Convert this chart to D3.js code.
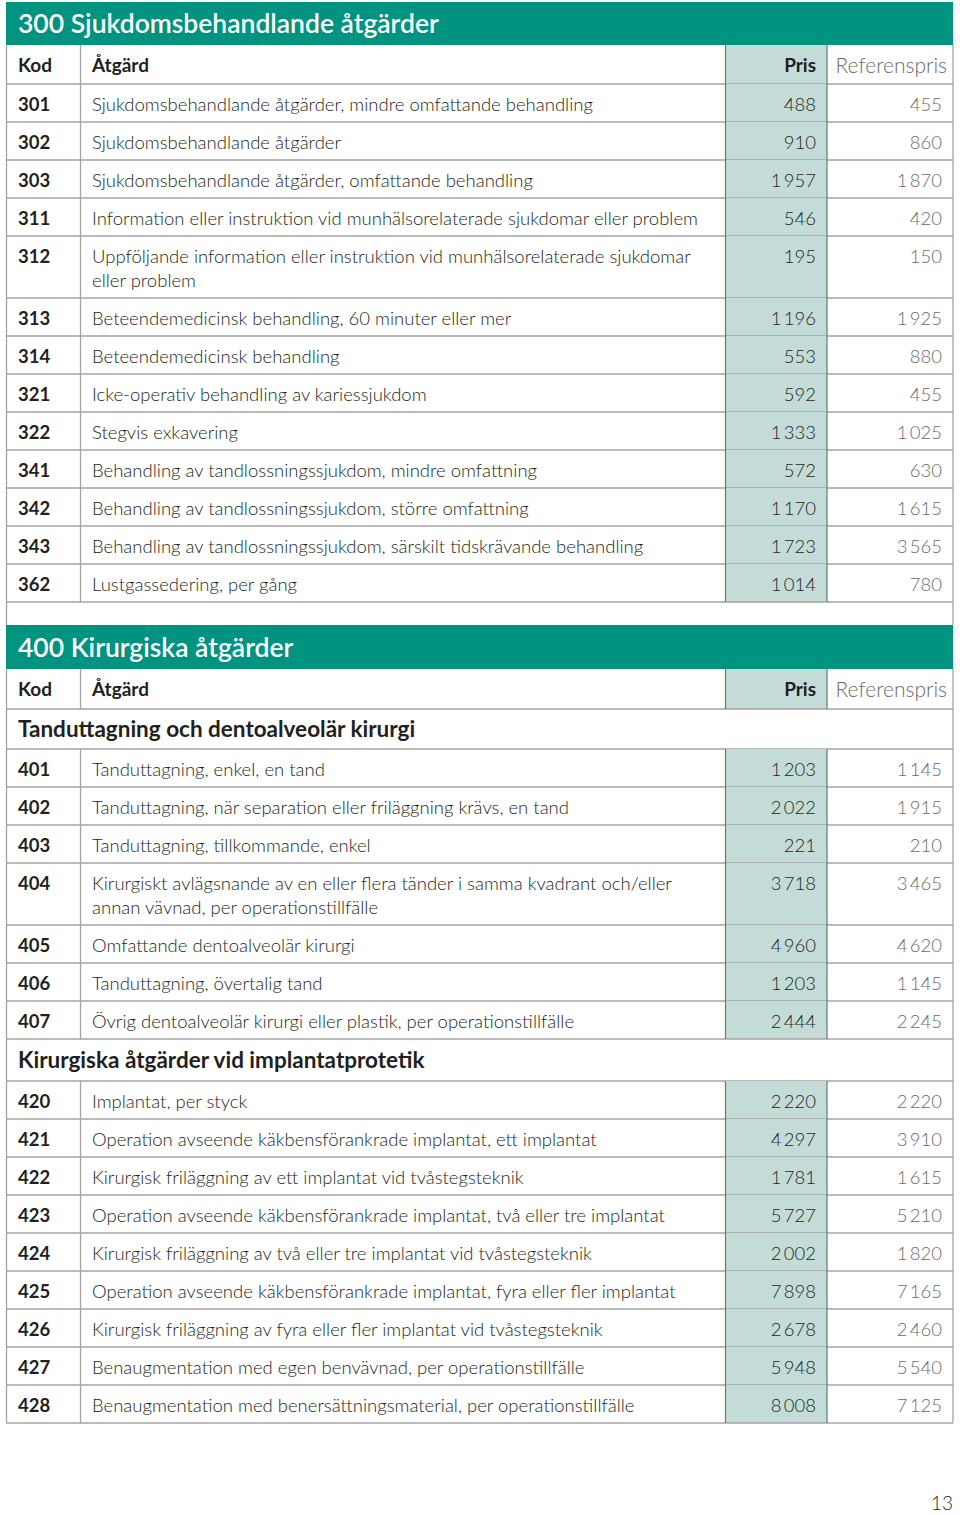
<!DOCTYPE html>
<html><head><meta charset="utf-8">
<script src="https://cdn.jsdelivr.net/npm/d3@7"></script>
<style>body{margin:0;background:#fff}svg{display:block}</style>
</head><body><div id="c"></div>
<script>
// ---------- DATA ----------
const sectionTitles = ["300 Sjukdomsbehandlande åtgärder", "400 Kirurgiska åtgärder"];
const columnLabels = ["Kod", "Åtgärd", "Pris", "Referenspris"];
const subTitles = ["Tanduttagning och dentoalveolär kirurgi", "Kirurgiska åtgärder vid implantatprotetik"];

const codes300 = ["301","302","303","311","312","313","314","321","322","341","342","343","362"];
const desc300 = [
  "Sjukdomsbehandlande åtgärder, mindre omfattande behandling",
  "Sjukdomsbehandlande åtgärder",
  "Sjukdomsbehandlande åtgärder, omfattande behandling",
  "Information eller instruktion vid munhälsorelaterade sjukdomar eller problem",
  "Uppföljande information eller instruktion vid munhälsorelaterade sjukdomar\neller problem",
  "Beteendemedicinsk behandling, 60 minuter eller mer",
  "Beteendemedicinsk behandling",
  "Icke-operativ behandling av kariessjukdom",
  "Stegvis exkavering",
  "Behandling av tandlossningssjukdom, mindre omfattning",
  "Behandling av tandlossningssjukdom, större omfattning",
  "Behandling av tandlossningssjukdom, särskilt tidskrävande behandling",
  "Lustgassedering, per gång"
];
const pris300 = [488, 910, 1957, 546, 195, 1196, 553, 592, 1333, 572, 1170, 1723, 1014];
const ref300  = [455, 860, 1870, 420, 150, 1925, 880, 455, 1025, 630, 1615, 3565, 780];

const codes400a = ["401","402","403","404","405","406","407"];
const desc400a = [
  "Tanduttagning, enkel, en tand",
  "Tanduttagning, när separation eller friläggning krävs, en tand",
  "Tanduttagning, tillkommande, enkel",
  "Kirurgiskt avlägsnande av en eller flera tänder i samma kvadrant och/eller\nannan vävnad, per operationstillfälle",
  "Omfattande dentoalveolär kirurgi",
  "Tanduttagning, övertalig tand",
  "Övrig dentoalveolär kirurgi eller plastik, per operationstillfälle"
];
const pris400a = [1203, 2022, 221, 3718, 4960, 1203, 2444];
const ref400a  = [1145, 1915, 210, 3465, 4620, 1145, 2245];

const codes400b = ["420","421","422","423","424","425","426","427","428"];
const desc400b = [
  "Implantat, per styck",
  "Operation avseende käkbensförankrade implantat, ett implantat",
  "Kirurgisk friläggning av ett implantat vid tvåstegsteknik",
  "Operation avseende käkbensförankrade implantat, två eller tre implantat",
  "Kirurgisk friläggning av två eller tre implantat vid tvåstegsteknik",
  "Operation avseende käkbensförankrade implantat, fyra eller fler implantat",
  "Kirurgisk friläggning av fyra eller fler implantat vid tvåstegsteknik",
  "Benaugmentation med egen benvävnad, per operationstillfälle",
  "Benaugmentation med benersättningsmaterial, per operationstillfälle"
];
const pris400b = [2220, 4297, 1781, 5727, 2002, 7898, 2678, 5948, 8008];
const ref400b  = [2220, 3910, 1615, 5210, 1820, 7165, 2460, 5540, 7125];

const pageNumber = "13";

// ---------- STYLE / LAYOUT ----------
const W = 960, H = 1515;
const teal = "#00937f", prisFill = "#c3dcd8", prisLine = "#5f7d78", grid = "#a3a3a3";
const dark = "#231f20", grey = "#6b6b6b";
const FONT = "Lato, 'Noto Sans', sans-serif";
const X = {left: 6.5, kod: 80.5, prisL: 725.5, prisR: 827, right: 953};

const fmt = d3.formatLocale({decimal: ",", thousands: "\u2009", grouping: [3], currency: ["", ""]}).format(",d");

function rowsOf(codes, desc, pris, ref) {
  return codes.map((c, i) => ({type: "row", code: c, lines: desc[i].split("\n"), pris: pris[i], ref: ref[i]}));
}
const items = [
  {type: "band", text: sectionTitles[0], h: 43},
  {type: "head", h: 39},
  ...rowsOf(codes300, desc300, pris300, ref300),
  {type: "gap", h: 23},
  {type: "band", text: sectionTitles[1], h: 44},
  {type: "head", h: 40},
  {type: "sub", text: subTitles[0], h: 40},
  ...rowsOf(codes400a, desc400a, pris400a, ref400a),
  {type: "sub", text: subTitles[1], h: 42},
  ...rowsOf(codes400b, desc400b, pris400b, ref400b)
];
let yy = 2;
items.forEach(d => {
  if (d.type === "row") d.h = d.lines.length > 1 ? 62 : 38;
  d.y = yy; yy += d.h;
});

const svg = d3.select("#c").append("svg").attr("width", W).attr("height", H)
  .style("font-family", FONT);

const g = svg.selectAll("g.item").data(items).join("g").attr("class", "item")
  .attr("transform", d => `translate(0,${d.y})`);

// bands
const bands = g.filter(d => d.type === "band");
bands.append("rect").attr("x", X.left - 0.5).attr("y", 0).attr("width", X.right - X.left + 0.5)
  .attr("height", d => d.h).attr("fill", teal);
bands.append("text").attr("x", 18).attr("y", d => d.h / 2 + 9.5).attr("fill", "#fff")
  .attr("font-size", 26.5).attr("font-weight", 600).text(d => d.text);

// pris fill
g.filter(d => d.type === "row" || d.type === "head").append("rect")
  .attr("x", X.prisL).attr("y", 0).attr("width", X.prisR - X.prisL).attr("height", d => d.h)
  .attr("fill", prisFill);

// bottom lines
g.filter(d => d.type !== "band" && d.type !== "gap").append("line")
  .attr("x1", X.left).attr("x2", X.right).attr("y1", d => d.h).attr("y2", d => d.h)
  .attr("stroke", grid).attr("stroke-width", 1.3);

// side borders
g.filter(d => d.type !== "band").each(function(d) {
  const s = d3.select(this);
  [X.left, X.right].forEach(x => s.append("line").attr("x1", x).attr("x2", x)
    .attr("y1", 0).attr("y2", d.h).attr("stroke", grid).attr("stroke-width", 1.3));
});

// inner verticals
g.filter(d => d.type === "row" || d.type === "head").each(function(d) {
  const s = d3.select(this);
  s.append("line").attr("x1", X.kod).attr("x2", X.kod).attr("y1", 0).attr("y2", d.h)
    .attr("stroke", grid).attr("stroke-width", 1.3);
  [X.prisL, X.prisR].forEach(x => s.append("line").attr("x1", x).attr("x2", x)
    .attr("y1", 0).attr("y2", d.h).attr("stroke", prisLine).attr("stroke-width", 1.2));
});

// header text
const heads = g.filter(d => d.type === "head");
heads.append("text").attr("x", 18).attr("y", d => d.h / 2 + 7).attr("font-size", 19)
  .attr("font-weight", 700).attr("fill", dark).text(columnLabels[0]);
heads.append("text").attr("x", 92).attr("y", d => d.h / 2 + 7).attr("font-size", 19)
  .attr("font-weight", 700).attr("fill", dark).text(columnLabels[1]);
heads.append("text").attr("x", 816).attr("y", d => d.h / 2 + 7).attr("font-size", 19)
  .attr("font-weight", 700).attr("fill", dark).attr("text-anchor", "end").text(columnLabels[2]);
heads.append("text").attr("x", 947).attr("y", d => d.h / 2 + 8).attr("font-size", 21)
  .attr("font-weight", 300).attr("fill", grey).attr("text-anchor", "end").text(columnLabels[3]);

// sub text
g.filter(d => d.type === "sub").append("text").attr("x", 18).attr("y", d => d.h / 2 + 8)
  .attr("font-size", 22.5).attr("font-weight", 700).attr("fill", dark).text(d => d.text);

// rows
const rows = g.filter(d => d.type === "row");
rows.append("text").attr("x", 18).attr("y", 26.5).attr("font-size", 18.5)
  .attr("font-weight", 700).attr("fill", dark).text(d => d.code);
rows.append("text").attr("x", 92).attr("y", 26.5).attr("font-size", 18.5)
  .attr("font-weight", 300).attr("fill", dark)
  .selectAll("tspan").data(d => d.lines).join("tspan")
  .attr("x", 92).attr("dy", (l, i) => i === 0 ? 0 : 24).text(l => l);
rows.append("text").attr("x", 816).attr("y", 26.5).attr("font-size", 18.5)
  .attr("font-weight", 300).attr("fill", dark).attr("text-anchor", "end").text(d => fmt(d.pris));
rows.append("text").attr("x", 942).attr("y", 26.5).attr("font-size", 18.5)
  .attr("font-weight", 300).attr("fill", grey).attr("text-anchor", "end").text(d => fmt(d.ref));

svg.append("text").attr("x", 953).attr("y", 1510).attr("text-anchor", "end")
  .attr("font-size", 19).attr("font-weight", 300).attr("fill", dark).text(pageNumber);
</script></body></html>
